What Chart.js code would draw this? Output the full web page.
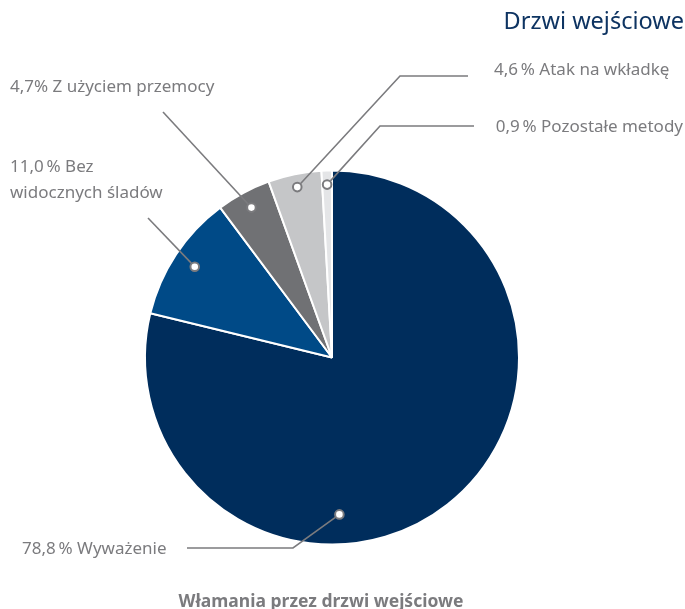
<!DOCTYPE html>
<html>
<head>
<meta charset="utf-8">
<script src="https://cdn.jsdelivr.net/npm/chart.js@4/dist/chart.umd.min.js"></script>
<style>
  html, body { margin: 0; padding: 0; background: #fff; }
  #wrap { position: relative; width: 685px; height: 609px; }
</style>
</head>
<body>
<div id="wrap"><canvas id="myChart" width="685" height="609"></canvas></div>
<script>
var categories = ['Wyważenie', 'Bez widocznych śladów', 'Z użyciem przemocy', 'Atak na wkładkę', 'Pozostałe metody'];
var values = [78.8, 11.0, 4.7, 4.6, 0.9];
var valueLabels = ['78,8\u2009%', '11,0\u2009%', '4,7%', '4,6\u2009%', '0,9\u2009%'];
var chartTitle = 'Drzwi wejściowe';
var chartCaption = 'Włamania przez drzwi wejściowe';

var colors = ['#002d5c', '#004a87', '#707174', '#c5c6c8', '#e4e5e7'];
var textGrey = '#7b7b7e';
var font = '"Noto Sans", sans-serif';

// where the marker sits inside each slice (fraction along the slice, fraction of radius)
// and the leader line / label layout
var callouts = [
    { along: 0.625, r: 0.84, elbow: [293, 548], end: [187, 548], text: [22, 549], align: 'left', lines: 1 },
    { along: 0.5, r: 0.88, elbow: null, end: [148, 218], text: [10, 167], align: 'left', lines: 2 },
    { along: 0.5, r: 0.91, elbow: null, end: [163, 112], text: [10, 87], align: 'left', lines: 1 },
    { along: 0.5, r: 0.93, elbow: [400, 76], end: [468, 76], text: [494, 70], align: 'left', lines: 1 },
    { along: 0.5, r: 0.925, elbow: [380, 126], end: [474, 126], text: [683, 127], align: 'right', lines: 1 }
];

var calloutPlugin = {
    id: 'callouts',
    afterDraw: function(chart) {
        var ctx = chart.ctx;
        var arcs = chart.getDatasetMeta(0).data;
        ctx.save();
        arcs.forEach(function(arc, i) {
            var c = callouts[i];
            var a = arc.startAngle + (arc.endAngle - arc.startAngle) * c.along;
            var rr = arc.outerRadius * c.r;
            var mx = arc.x + Math.cos(a) * rr;
            var my = arc.y + Math.sin(a) * rr;

            ctx.strokeStyle = textGrey;
            ctx.lineWidth = 1.6;
            ctx.beginPath();
            var nx = c.elbow ? c.elbow[0] : c.end[0];
            var ny = c.elbow ? c.elbow[1] : c.end[1];
            var d = Math.atan2(ny - my, nx - mx);
            ctx.moveTo(mx + Math.cos(d) * 5, my + Math.sin(d) * 5);
            if (c.elbow) ctx.lineTo(c.elbow[0], c.elbow[1]);
            ctx.lineTo(c.end[0], c.end[1]);
            ctx.stroke();

            ctx.beginPath();
            ctx.arc(mx, my, 4.3, 0, Math.PI * 2);
            ctx.fillStyle = '#fff';
            ctx.fill();
            ctx.lineWidth = 2;
            ctx.stroke();

            ctx.fillStyle = textGrey;
            ctx.font = '17px ' + font;
            ctx.textAlign = c.align;
            ctx.textBaseline = 'middle';
            if (c.lines === 2) {
                var words = categories[i].split(' ');
                ctx.fillText(valueLabels[i] + ' ' + words[0], c.text[0], c.text[1]);
                ctx.fillText(words.slice(1).join(' '), c.text[0], c.text[1] + 26);
            } else {
                ctx.fillText(valueLabels[i] + ' ' + categories[i], c.text[0], c.text[1]);
            }
        });

        ctx.fillStyle = '#0e3462';
        ctx.font = '23.5px ' + font;
        ctx.textAlign = 'right';
        ctx.textBaseline = 'middle';
        ctx.fillText(chartTitle, 684, 22);

        ctx.fillStyle = textGrey;
        ctx.font = 'bold 17.5px ' + font;
        ctx.textAlign = 'center';
        ctx.fillText(chartCaption, 321, 602);
        ctx.restore();
    }
};

var ctx = document.getElementById('myChart').getContext('2d');
var myChart = new Chart(ctx, {
    type: 'pie',
    data: {
        labels: categories,
        datasets: [{
            data: values,
            backgroundColor: colors,
            borderColor: '#ffffff',
            borderWidth: 2
        }]
    },
    options: {
        responsive: false,
        animation: false,
        layout: { padding: { top: 169, bottom: 63, left: 144, right: 165 } },
        plugins: {
            legend: { display: false },
            tooltip: { enabled: false }
        }
    },
    plugins: [calloutPlugin]
});
</script>
</body>
</html>
